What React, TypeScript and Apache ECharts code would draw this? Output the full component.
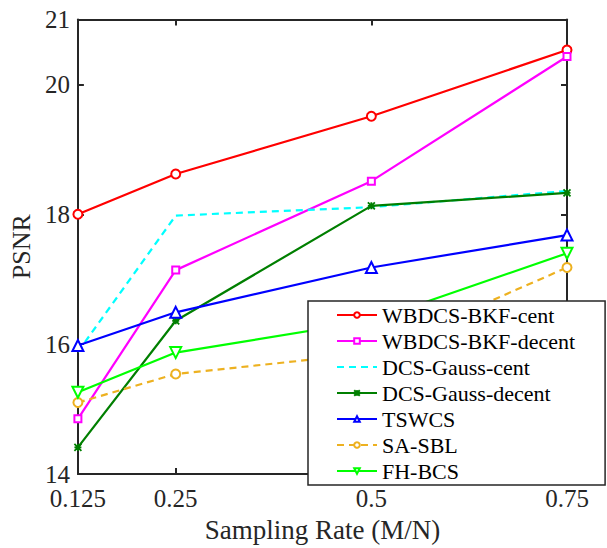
import React, { useEffect, useRef } from "react";
import * as echarts from "echarts";

const samplingRates = [0.125, 0.25, 0.5, 0.75];
const xTickValues = [0.125, 0.25, 0.5, 0.75];
const seriesNames = [
  "WBDCS-BKF-cent",
  "WBDCS-BKF-decent",
  "DCS-Gauss-cent",
  "DCS-Gauss-decent",
  "TSWCS",
  "SA-SBL",
  "FH-BCS",
];
const wbdcsBkfCent = [18.0, 18.62, 19.51, 20.53];
const wbdcsBkfDecent = [14.85, 17.14, 18.51, 20.43];
const dcsGaussCent = [15.88, 17.98, 18.11, 18.36];
const dcsGaussDecent = [14.41, 16.36, 18.13, 18.33];
const tswcs = [15.98, 16.49, 17.18, 17.68];
const saSbl = [15.1, 15.54, 15.86, 17.18];
const fhBcs = [15.26, 15.87, 16.36, 17.4];

const FONT = "Liberation Serif";
const AX = "#262626";

export default function App() {
  const ref = useRef<HTMLDivElement>(null);
  useEffect(() => {
    if (!ref.current) return;
    const chart = echarts.init(ref.current, undefined, { renderer: "svg" });
    const pair = (ys: number[]) => samplingRates.map((x, i) => [x, ys[i]]);
    const mk = (
      name: string,
      ys: number[],
      color: string,
      symbol: string,
      size: number,
      dashed = false,
      extra: any = {}
    ) => ({
      name,
      type: "line",
      data: pair(ys),
      symbol,
      symbolSize: size,
      showSymbol: symbol !== "none",
      lineStyle: { color, width: 2.2, type: dashed ? [7, 5] : "solid" },
      itemStyle: { color, borderColor: color, borderWidth: 2 },
      emphasis: { disabled: true },
      ...extra,
    });
    const crossPath = "path://M0,0L10,10M10,0L0,10M5,0L5,10M0,5L10,5";
    const option: any = {
      animation: false,
      backgroundColor: "#fff",
      textStyle: { fontFamily: FONT },
      grid: { left: 71, right: 40, top: 19.5, bottom: 74, containLabel: false },
      xAxis: [
        {
          type: "value",
          min: 0.125,
          max: 0.75,
          interval: 0.125,
          position: "bottom",
          name: "Sampling Rate (M/N)",
          nameLocation: "middle",
          nameGap: 42,
          nameTextStyle: { fontFamily: FONT, fontSize: 27, color: AX },
          axisLine: { show: true, lineStyle: { color: AX, width: 2 } },
          axisTick: { show: true, inside: true, length: 6, lineStyle: { color: AX, width: 2 }, customValues: xTickValues },
          axisLabel: {
            fontFamily: FONT,
            fontSize: 25,
            lineHeight: 18,
            color: AX,
            margin: 15.5,
            customValues: xTickValues,
            formatter: (v: number) => (xTickValues.some((t) => Math.abs(t - v) < 1e-9) ? String(v) : ""),
          },
          splitLine: { show: false },
        },
        {
          type: "value",
          min: 0.125,
          max: 0.75,
          interval: 0.125,
          position: "top",
          axisLine: { show: true, lineStyle: { color: AX, width: 2 } },
          axisTick: { show: true, inside: true, length: 6, lineStyle: { color: AX, width: 2 }, customValues: xTickValues },
          axisLabel: { show: false },
          splitLine: { show: false },
        },
      ],
      yAxis: [
        {
          type: "value",
          min: 14,
          max: 21,
          interval: 2,
          position: "left",
          name: "PSNR",
          nameLocation: "middle",
          nameGap: 43,
          nameTextStyle: { fontFamily: FONT, fontSize: 26, color: AX },
          axisLine: { show: true, lineStyle: { color: AX, width: 2 } },
          axisTick: { show: true, inside: true, length: 6, lineStyle: { color: AX, width: 2 } },
          axisLabel: { fontFamily: FONT, fontSize: 25, lineHeight: 18, color: AX, margin: 8, showMaxLabel: true, showMinLabel: true },
          splitLine: { show: false },
        },
        {
          type: "value",
          min: 14,
          max: 21,
          interval: 2,
          position: "right",
          axisLine: { show: true, lineStyle: { color: AX, width: 2 } },
          axisTick: { show: true, inside: true, length: 6, lineStyle: { color: AX, width: 2 } },
          axisLabel: { show: false },
          splitLine: { show: false },
        },
      ],
      legend: {
        orient: "vertical",
        left: 308,
        top: 301,
        padding: [3, 30, 3, 28],
        itemGap: 4,
        itemWidth: 40,
        itemHeight: 7,
        backgroundColor: "#fff",
        borderColor: AX,
        borderWidth: 1.5,
        borderRadius: 0,
        data: seriesNames.map((n) =>
          n === "DCS-Gauss-cent" ? { name: n, itemStyle: { opacity: 0 } } : { name: n }
        ),
        textStyle: { fontFamily: FONT, fontSize: 22, color: "#000", lineHeight: 22 },
        z: 10,
      },
      series: [
        mk(seriesNames[0], wbdcsBkfCent, "#FF0000", "emptyCircle", 9),
        mk(seriesNames[1], wbdcsBkfDecent, "#FF00FF", "emptyRect", 7),
        mk(seriesNames[2], dcsGaussCent, "#00FFFF", "none", 0, true),
        mk(seriesNames[3], dcsGaussDecent, "#007F00", crossPath, 7, false, {
          itemStyle: { color: "#007F00", borderColor: "#007F00", borderWidth: 1.8 },
        }),
        mk(seriesNames[4], tswcs, "#0000FF", "emptyTriangle", 11),
        mk(seriesNames[5], saSbl, "#EDB120", "emptyCircle", 9, true),
        mk(seriesNames[6], fhBcs, "#00FF00", "emptyTriangle", 11, false, { symbolRotate: 180 }),
      ],
    };
    chart.setOption(option);
    return () => chart.dispose();
  }, []);
  return <div ref={ref} style={{ width: 607, height: 548, position: "absolute", left: 0, top: 0 }} />;
}
